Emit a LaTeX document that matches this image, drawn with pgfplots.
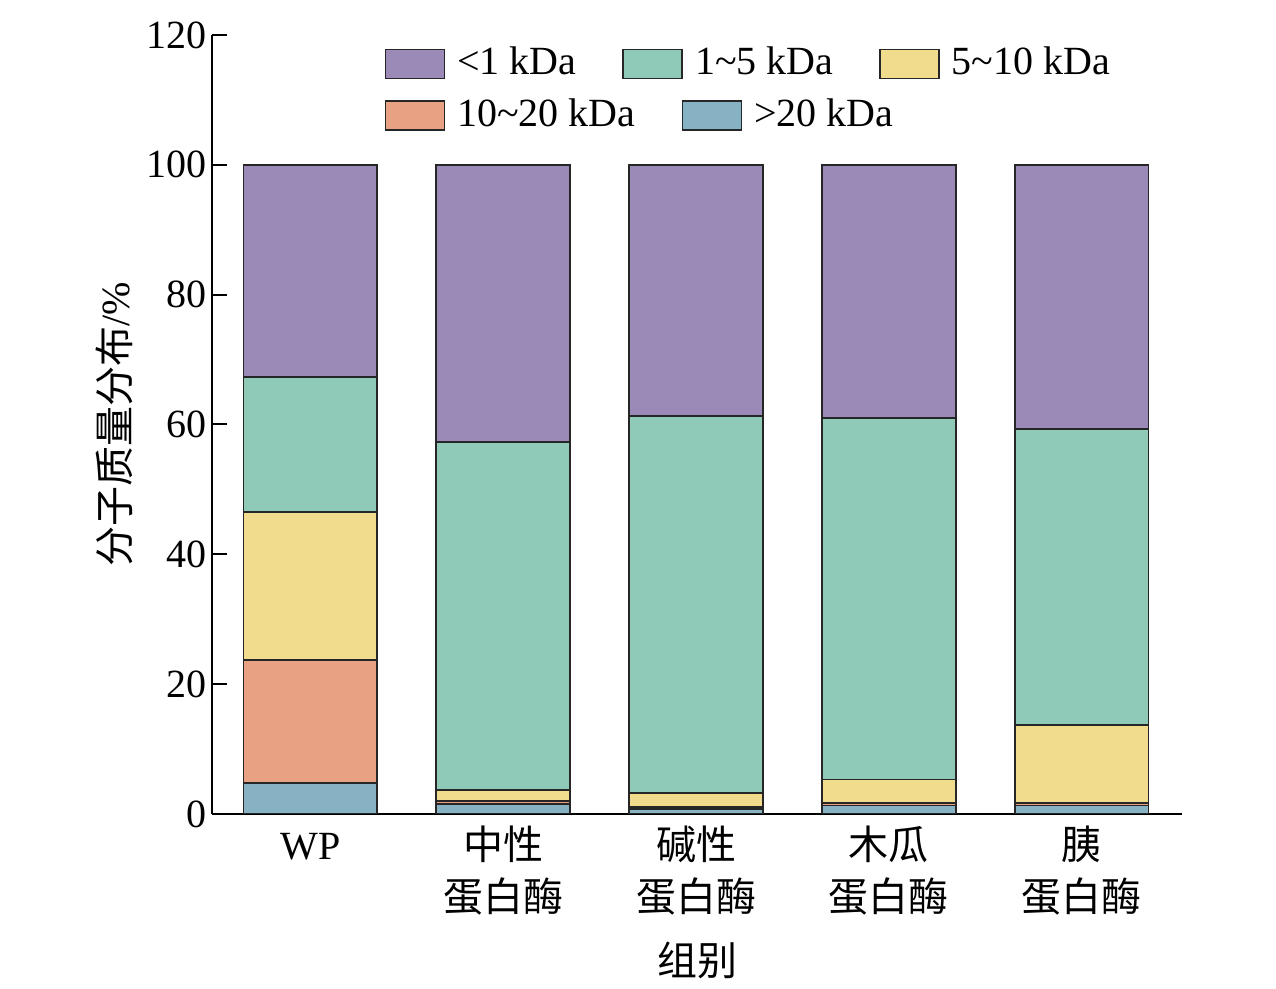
\documentclass[border=0pt]{standalone}
\usepackage{pgfplots}
\pgfplotsset{compat=1.18}
\usepackage{pgfplotstable}
\usepackage{fontspec}
\setmainfont{Liberation Serif}
\newfontfamily\cjk{Noto Sans CJK SC}
\newcommand{\twol}[2]{\begin{tabular}[t]{@{}c@{}}{\cjk #1}\\{\cjk #2}\end{tabular}}
\definecolor{cpurple}{RGB}{155,138,184}
\definecolor{cteal}{RGB}{143,202,185}
\definecolor{cyellow}{RGB}{240,220,140}
\definecolor{csalmon}{RGB}{232,162,131}
\definecolor{cblue}{RGB}{134,178,196}
\pgfplotstableread{
x g20 g1020 g510 g15 l1
0 4.8 18.9 22.8 20.8 32.7
1 1.5 0.5 1.7 53.6 42.7
2 0.8 0.3 2.1 58.1 38.7
3 1.3 0.4 3.6 55.7 39.0
4 1.3 0.4 12.0 45.6 40.7
}\datatable
\pgfplotsset{
  common/.style={at={(0,0)}, anchor=south west, scale only axis,
    width=485pt, height=389.5pt, xmin=-0.51, xmax=4.52, ymin=0, ymax=120},
  mybox/.style={legend image code/.code={\draw[##1, draw=black!85, line width=0.8pt] (0pt,-7.25pt) rectangle (29.5pt,7.25pt);}},
  myleg/.style={legend style={draw=none, fill=none, inner sep=0pt, outer sep=0pt, anchor=west,
      nodes={inner sep=0pt, outer sep=0pt},
      /tikz/every odd column/.style={column sep=6pt},
      /tikz/every even column/.style={column sep=23pt}}},
}
\begin{document}
\fontsize{20}{26}\selectfont
\begin{tikzpicture}
\begin{axis}[common,
  ybar stacked, bar width=0.694,
  axis lines=left, axis line style={-, line width=1pt, black},
  ytick={0,20,...,120}, xtick={0,...,4},
  xticklabels={WP,\twol{中性}{蛋白酶},\twol{碱性}{蛋白酶},\twol{木瓜}{蛋白酶},\twol{胰}{蛋白酶}},
  x tick label style={anchor=base, yshift=-23pt},
  y tick label style={inner sep=2.5pt},
  xtick style={draw=none},
  ytick style={line width=1pt, black},
  tick align=inside, major tick length=7.5pt,
  /pgf/number format/assume math mode=true,
  xlabel={\cjk 组别},
  xlabel style={at={(axis description cs:0.5,0)}, anchor=center, yshift=-73pt},
  ylabel={{\cjk 分子质量分布}/\%},
  ylabel style={at={(axis description cs:-0.101,0.5)}, anchor=center},
  every axis plot/.append style={draw=black!85, line width=0.8pt},
]
\addplot[fill=cblue] table[x=x,y=g20]{\datatable};
\addplot[fill=csalmon] table[x=x,y=g1020]{\datatable};
\addplot[fill=cyellow] table[x=x,y=g510]{\datatable};
\addplot[fill=cteal] table[x=x,y=g15]{\datatable};
\addplot[fill=cpurple] table[x=x,y=l1]{\datatable};
\end{axis}
\begin{axis}[common, hide axis, myleg, legend columns=3,
  legend style={at={(0.178,0.963)}}]
\addlegendimage{mybox, fill=cpurple}\addlegendentry{<1 kDa}
\addlegendimage{mybox, fill=cteal}\addlegendentry{1\textasciitilde 5 kDa}
\addlegendimage{mybox, fill=cyellow}\addlegendentry{5\textasciitilde 10 kDa}
\end{axis}
\begin{axis}[common, hide axis, myleg, legend columns=2,
  legend style={at={(0.178,0.897)}}]
\addlegendimage{mybox, fill=csalmon}\addlegendentry{10\textasciitilde 20 kDa}
\addlegendimage{mybox, fill=cblue}\addlegendentry{>20 kDa}
\end{axis}
\pgfresetboundingbox
\path (-106pt,-87.5pt) rectangle (532pt,407pt);
\end{tikzpicture}
\end{document}
